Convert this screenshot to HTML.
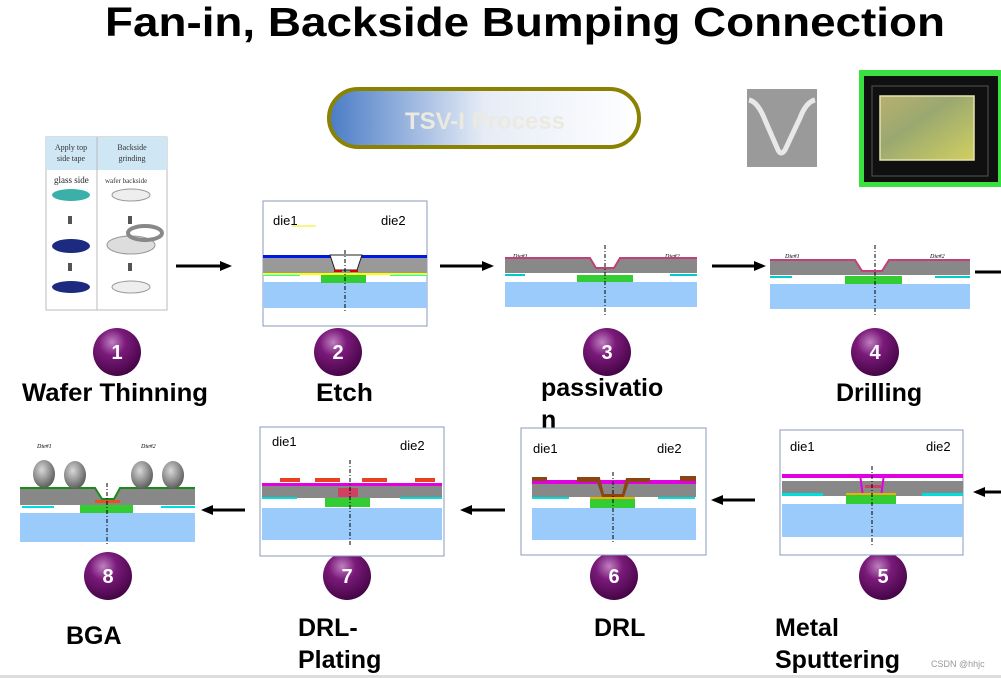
<!DOCTYPE html>
<html><head><meta charset="utf-8"><style>
body{margin:0;background:#fff;}
svg{display:block;font-family:"Liberation Sans",Arial,sans-serif;}
</style></head><body>
<svg width="1001" height="678" viewBox="0 0 1001 678" xmlns="http://www.w3.org/2000/svg">
<defs>
<linearGradient id="pill" x1="0" x2="1" y1="0" y2="0">
<stop offset="0" stop-color="#4a7cc6"/><stop offset="0.5" stop-color="#e6ecf6"/><stop offset="1" stop-color="#ffffff"/></linearGradient>
<radialGradient id="ball" cx="0.4" cy="0.3" r="0.8">
<stop offset="0" stop-color="#c080c0"/><stop offset="0.35" stop-color="#7a1a7a"/><stop offset="1" stop-color="#3a003a"/></radialGradient>
<radialGradient id="bump" cx="0.4" cy="0.35" r="0.7">
<stop offset="0" stop-color="#d8d8d8"/><stop offset="1" stop-color="#555"/></radialGradient>
<linearGradient id="chip" x1="0" x2="1" y1="0" y2="1">
<stop offset="0" stop-color="#b8b070"/><stop offset="0.4" stop-color="#9aa870"/><stop offset="1" stop-color="#d0d060"/></linearGradient>
<marker id="ar" markerWidth="12" markerHeight="10" refX="9" refY="5" orient="auto" markerUnits="userSpaceOnUse"><path d="M0,0 L12,5 L0,10 Z" fill="#000"/></marker>
</defs>

<text x="525" y="36" text-anchor="middle" font-size="41" font-weight="bold" textLength="840" lengthAdjust="spacingAndGlyphs">Fan-in, Backside Bumping Connection</text>

<rect x="329" y="89" width="310" height="58" rx="29" fill="url(#pill)" stroke="#8a8200" stroke-width="4"/>
<text x="485" y="129" text-anchor="middle" font-size="24" font-weight="bold" fill="#ece9e0">TSV-I Process</text>

<rect x="747" y="89" width="70" height="78" fill="#9a9a9a"/>
<path d="M749,100 Q758,102 765,120 L778,150 Q781,156 785,150 L800,118 Q806,102 815,100" stroke="#e8e8e8" stroke-width="5" fill="none"/>
<rect x="859" y="70" width="142" height="117" fill="#38e040"/>
<rect x="864" y="76" width="134" height="106" fill="#101010"/>
<rect x="872" y="86" width="116" height="90" fill="none" stroke="#555" stroke-width="1"/>
<rect x="880" y="96" width="94" height="64" fill="url(#chip)" stroke="#e8e0b0" stroke-width="1.5"/>

<rect x="46" y="137" width="121" height="173" fill="#fff" stroke="#bbb"/>
<rect x="46" y="137" width="121" height="33" fill="#cfe6f4"/>
<line x1="97" y1="137" x2="97" y2="310" stroke="#bbb"/>
<text x="71" y="150" font-family="Liberation Serif" font-size="8" text-anchor="middle" fill="#333">Apply top</text>
<text x="71" y="161" font-family="Liberation Serif" font-size="8" text-anchor="middle" fill="#333">side tape</text>
<text x="132" y="150" font-family="Liberation Serif" font-size="8" text-anchor="middle" fill="#333">Backside</text>
<text x="132" y="161" font-family="Liberation Serif" font-size="8" text-anchor="middle" fill="#333">grinding</text>
<text x="54" y="183" font-family="Liberation Serif" font-size="9" fill="#222">glass side</text>
<text x="105" y="183" font-family="Liberation Serif" font-size="7" fill="#333">wafer backside</text>
<ellipse cx="71" cy="195" rx="19" ry="6" fill="#3ab0a8"/>
<ellipse cx="131" cy="195" rx="19" ry="6" fill="#eee" stroke="#999"/>
<rect x="68" y="216" width="4" height="8" fill="#555"/><rect x="128" y="216" width="4" height="8" fill="#555"/>
<ellipse cx="71" cy="246" rx="19" ry="7" fill="#1c2a80"/>
<ellipse cx="131" cy="245" rx="24" ry="9" fill="#ddd" stroke="#999"/>
<ellipse cx="145" cy="233" rx="17" ry="7" fill="none" stroke="#888" stroke-width="4"/>
<rect x="68" y="263" width="4" height="8" fill="#555"/><rect x="128" y="263" width="4" height="8" fill="#555"/>
<ellipse cx="71" cy="287" rx="19" ry="6" fill="#1c2a80"/>
<ellipse cx="131" cy="287" rx="19" ry="6" fill="#eee" stroke="#999"/>

<line x1="176" y1="266" x2="229" y2="266" stroke="#000" stroke-width="3" marker-end="url(#ar)"/>
<line x1="440" y1="266" x2="491" y2="266" stroke="#000" stroke-width="3" marker-end="url(#ar)"/>
<line x1="712" y1="266" x2="763" y2="266" stroke="#000" stroke-width="3" marker-end="url(#ar)"/>
<line x1="975" y1="272" x2="1001" y2="272" stroke="#000" stroke-width="3"/>

<rect x="263" y="201" width="164" height="125" fill="#fff" stroke="#8899bb"/>
<text x="273" y="225" font-size="13">die1</text><text x="381" y="225" font-size="13">die2</text>
<line x1="292" y1="226" x2="316" y2="226" stroke="#ee0" stroke-width="1"/>
<rect x="263" y="255" width="164" height="3" fill="#0018e0"/>
<rect x="263" y="258" width="164" height="15" fill="#999"/>
<rect x="263" y="273" width="164" height="2" fill="#ff0"/>
<rect x="263" y="275" width="37" height="1" fill="#0ff"/><rect x="390" y="275" width="37" height="1" fill="#0ff"/>
<rect x="263" y="282" width="164" height="26" fill="#9bcbfb"/>
<rect x="321" y="275" width="45" height="8" fill="#33cc33"/>
<path d="M330,255 L362,255 L357,270 L335,270 Z" fill="#fff" stroke="#222"/>
<rect x="334" y="270" width="8" height="2" fill="#d00"/><rect x="350" y="270" width="8" height="2" fill="#d00"/>
<line x1="345" y1="250" x2="345" y2="313" stroke="#000" stroke-dasharray="4,2,1,2"/>

<text x="513" y="258" font-family="Liberation Serif" font-style="italic" font-size="6">Die#1</text>
<text x="665" y="258" font-family="Liberation Serif" font-style="italic" font-size="6">Die#2</text>
<path d="M505,258 L590,258 L596,268 L614,268 L620,258 L697,258 L697,273 L505,273 Z" fill="#888"/>
<path d="M505,258 L590,258 L596,268 L614,268 L620,258 L697,258" stroke="#c0407a" stroke-width="2" fill="none"/>
<rect x="505" y="274" width="20" height="2" fill="#0cc"/><rect x="670" y="274" width="27" height="2" fill="#0cc"/>
<rect x="577" y="275" width="56" height="8" fill="#33cc33"/>
<rect x="505" y="282" width="192" height="25" fill="#9bcbfb"/>
<line x1="605" y1="245" x2="605" y2="315" stroke="#000" stroke-dasharray="4,2,1,2"/>

<text x="785" y="258" font-family="Liberation Serif" font-style="italic" font-size="6">Die#1</text>
<text x="930" y="258" font-family="Liberation Serif" font-style="italic" font-size="6">Die#2</text>
<path d="M770,260 L855,260 L862,271 L882,271 L889,260 L970,260 L970,275 L770,275 Z" fill="#888"/>
<path d="M770,260 L855,260 L862,271 L882,271 L889,260 L970,260" stroke="#c0407a" stroke-width="2" fill="none"/>
<rect x="770" y="276" width="22" height="2" fill="#0cc"/><rect x="935" y="276" width="35" height="2" fill="#0cc"/>
<rect x="845" y="276" width="57" height="8" fill="#33cc33"/>
<rect x="770" y="284" width="200" height="25" fill="#9bcbfb"/>
<line x1="875" y1="245" x2="875" y2="315" stroke="#000" stroke-dasharray="4,2,1,2"/>

<g font-size="20" font-weight="bold" fill="#fff" text-anchor="middle">
<circle cx="117" cy="352" r="24" fill="url(#ball)"/><text x="117" y="359">1</text>
<circle cx="338" cy="352" r="24" fill="url(#ball)"/><text x="338" y="359">2</text>
<circle cx="607" cy="352" r="24" fill="url(#ball)"/><text x="607" y="359">3</text>
<circle cx="875" cy="352" r="24" fill="url(#ball)"/><text x="875" y="359">4</text>
<circle cx="108" cy="576" r="24" fill="url(#ball)"/><text x="108" y="583">8</text>
<circle cx="347" cy="576" r="24" fill="url(#ball)"/><text x="347" y="583">7</text>
<circle cx="614" cy="576" r="24" fill="url(#ball)"/><text x="614" y="583">6</text>
<circle cx="883" cy="576" r="24" fill="url(#ball)"/><text x="883" y="583">5</text>
</g>

<g font-size="25" font-weight="bold" fill="#000">
<text x="22" y="401" textLength="186" lengthAdjust="spacingAndGlyphs">Wafer Thinning</text>
<text x="316" y="401" textLength="57" lengthAdjust="spacingAndGlyphs">Etch</text>
<text x="541" y="396">passivatio</text>
<text x="541" y="428">n</text>
<text x="836" y="401">Drilling</text>
<text x="66" y="644">BGA</text>
<text x="298" y="636">DRL-</text>
<text x="298" y="668">Plating</text>
<text x="594" y="636">DRL</text>
<text x="775" y="636">Metal</text>
<text x="775" y="668">Sputtering</text>
</g>

<line x1="245" y1="510" x2="204" y2="510" stroke="#000" stroke-width="3" marker-end="url(#ar)"/>
<line x1="505" y1="510" x2="463" y2="510" stroke="#000" stroke-width="3" marker-end="url(#ar)"/>
<line x1="755" y1="500" x2="714" y2="500" stroke="#000" stroke-width="3" marker-end="url(#ar)"/>
<line x1="1001" y1="492" x2="976" y2="492" stroke="#000" stroke-width="3" marker-end="url(#ar)"/>

<text x="37" y="448" font-family="Liberation Serif" font-style="italic" font-size="6">Die#1</text>
<text x="141" y="448" font-family="Liberation Serif" font-style="italic" font-size="6">Die#2</text>
<path d="M20,489 L95,489 L102,500 L114,500 L120,489 L195,489 L195,505 L20,505 Z" fill="#888"/>
<path d="M20,488 L95,488 L102,499 L114,499 L120,488 L195,488" stroke="#1a8a1a" stroke-width="2" fill="none"/>
<rect x="22" y="506" width="32" height="2" fill="#0dd"/><rect x="161" y="506" width="34" height="2" fill="#0dd"/>
<rect x="80" y="505" width="53" height="9" fill="#33cc33"/>
<rect x="20" y="513" width="175" height="29" fill="#9bcbfb"/>
<rect x="95" y="500" width="25" height="3" fill="#e85020"/>
<g fill="url(#bump)">
<ellipse cx="44" cy="474" rx="11" ry="14"/><ellipse cx="75" cy="475" rx="11" ry="14"/>
<ellipse cx="142" cy="475" rx="11" ry="14"/><ellipse cx="173" cy="475" rx="11" ry="14"/>
</g>
<line x1="107" y1="483" x2="107" y2="545" stroke="#000" stroke-dasharray="4,2,1,2"/>

<rect x="260" y="427" width="184" height="129" fill="#fff" stroke="#8899bb"/>
<text x="272" y="446" font-size="13">die1</text><text x="400" y="450" font-size="13">die2</text>
<rect x="262" y="483" width="180" height="3" fill="#e000e0"/>
<rect x="262" y="486" width="180" height="12" fill="#888"/>
<rect x="280" y="478" width="20" height="4" fill="#e84020"/><rect x="315" y="478" width="25" height="4" fill="#e84020"/>
<rect x="362" y="478" width="25" height="4" fill="#e84020"/><rect x="415" y="478" width="20" height="4" fill="#e84020"/>
<rect x="338" y="488" width="20" height="9" fill="#d04060"/>
<rect x="262" y="497" width="35" height="2" fill="#0dd"/><rect x="400" y="497" width="42" height="2" fill="#0dd"/>
<rect x="325" y="498" width="45" height="9" fill="#33cc33"/>
<rect x="262" y="508" width="180" height="32" fill="#9bcbfb"/>
<line x1="350" y1="460" x2="350" y2="545" stroke="#000" stroke-dasharray="4,2,1,2"/>

<rect x="521" y="428" width="185" height="127" fill="#fff" stroke="#8899bb"/>
<text x="533" y="453" font-size="13">die1</text><text x="657" y="453" font-size="13">die2</text>
<rect x="532" y="480" width="164" height="4" fill="#e000e0"/>
<rect x="532" y="484" width="164" height="13" fill="#888"/>
<rect x="532" y="477" width="15" height="4" fill="#8b4513"/><rect x="577" y="477" width="23" height="5" fill="#8b4513"/>
<path d="M600,478 L604,494 L622,494 L626,478 L650,478 L650,482 L629,482 L624,497 L602,497 L597,482 Z" fill="#8b4513"/>
<rect x="680" y="476" width="16" height="5" fill="#8b4513"/>
<rect x="532" y="497" width="37" height="2" fill="#0dd"/><rect x="658" y="497" width="37" height="2" fill="#0dd"/>
<rect x="590" y="497" width="45" height="2" fill="#f0b000"/>
<rect x="590" y="499" width="45" height="9" fill="#33cc33"/>
<rect x="532" y="508" width="164" height="32" fill="#9bcbfb"/>
<line x1="613" y1="472" x2="613" y2="543" stroke="#000" stroke-dasharray="4,2,1,2"/>

<rect x="780" y="430" width="183" height="125" fill="#fff" stroke="#8899bb"/>
<text x="790" y="451" font-size="13">die1</text><text x="926" y="451" font-size="13">die2</text>
<rect x="782" y="474" width="181" height="4" fill="#e000e0"/>
<rect x="782" y="481" width="181" height="15" fill="#888"/>
<path d="M860,474 L863,497 M884,474 L881,497" stroke="#e000e0" stroke-width="2"/>
<rect x="865" y="485" width="16" height="3" fill="#d04060"/>
<rect x="782" y="493" width="41" height="3" fill="#0dd"/><rect x="922" y="493" width="41" height="3" fill="#0dd"/>
<rect x="846" y="493" width="50" height="2" fill="#f0b000"/>
<rect x="846" y="495" width="50" height="9" fill="#33cc33"/>
<rect x="782" y="504" width="181" height="33" fill="#9bcbfb"/>
<line x1="872" y1="466" x2="872" y2="547" stroke="#000" stroke-dasharray="4,2,1,2"/>

<text x="931" y="667" font-size="9" fill="#999">CSDN @hhjc</text>
<rect x="0" y="675" width="1001" height="3" fill="#ddd"/>
</svg>
</body></html>
